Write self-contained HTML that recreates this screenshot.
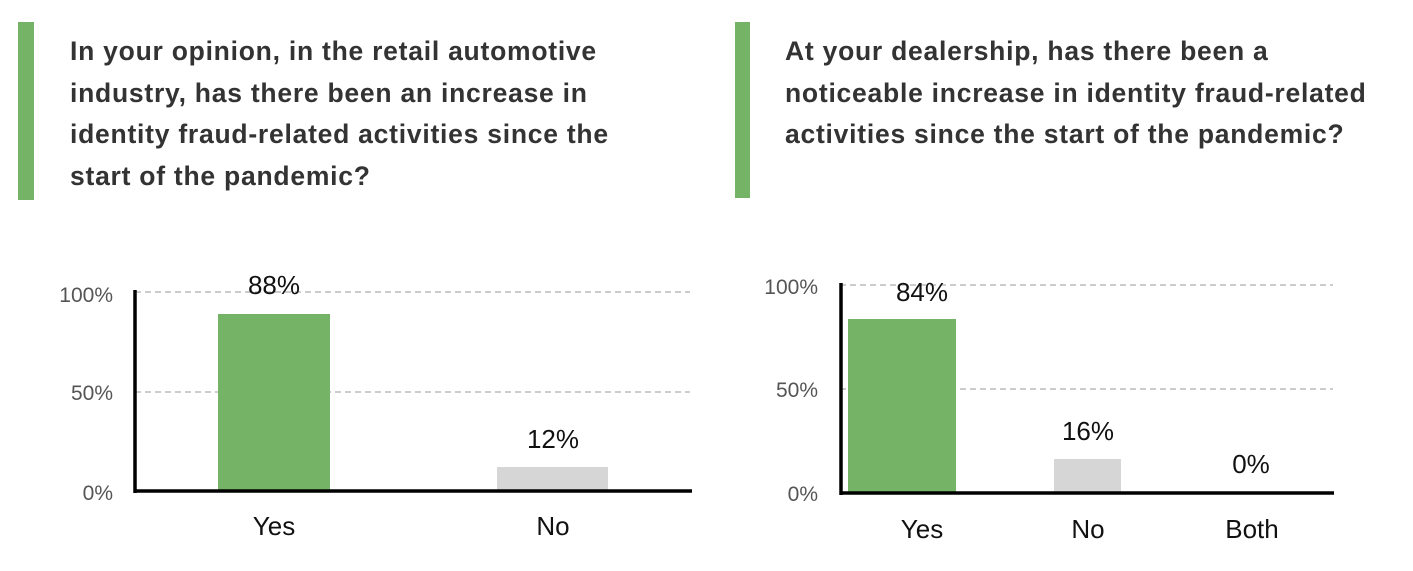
<!DOCTYPE html>
<html><head><meta charset="utf-8"><style>
body{margin:0;width:1413px;height:571px;background:#fff;overflow:hidden;font-family:"Liberation Sans",sans-serif;}
.t{position:absolute;font-size:26.5px;font-weight:bold;color:#333;line-height:41.5px;letter-spacing:0.75px;white-space:nowrap}
.bar{position:absolute;background:#75b467}
</style></head><body>
<div class="bar" style="left:18px;top:22px;width:16px;height:178px"></div>
<div class="t" style="left:70px;top:31px">In your opinion, in the retail automotive<br>industry, has there been an increase in<br>identity fraud-related activities since the<br>start of the pandemic?</div>
<div class="bar" style="left:735px;top:22px;width:15px;height:176px"></div>
<div class="t" style="left:785px;top:31px">At your dealership, has there been a<br>noticeable increase in identity fraud-related<br>activities since the start of the pandemic?</div>
<svg width="1413" height="571" style="position:absolute;left:0;top:0" font-family="Liberation Sans, sans-serif">
<g stroke="#999" stroke-dasharray="6,4" stroke-width="1">
<line x1="135" y1="292" x2="690" y2="292"/><line x1="135" y1="392" x2="690" y2="392"/>
<line x1="840" y1="285" x2="1333" y2="285"/><line x1="840" y1="389" x2="1333" y2="389"/>
</g>
<rect x="218" y="314" width="112" height="177" fill="#75b467"/>
<rect x="497" y="467" width="111" height="24" fill="#d6d6d6"/>
<rect x="848" y="319" width="108" height="173" fill="#75b467"/>
<rect x="1054" y="459" width="67" height="33" fill="#d6d6d6"/>
<g stroke="#000" stroke-width="3.5">
<line x1="135" y1="290" x2="135" y2="493"/><line x1="134" y1="491" x2="692" y2="491"/>
<line x1="841" y1="283" x2="841" y2="495"/><line x1="840" y1="493" x2="1334" y2="493"/>
</g>
<g fill="#555" font-size="21" text-anchor="end">
<text x="113" y="302">100%</text><text x="113" y="400">50%</text><text x="113" y="500">0%</text>
<text x="818" y="294">100%</text><text x="818" y="397">50%</text><text x="818" y="501">0%</text>
</g>
<g fill="#111" font-size="26" text-anchor="middle">
<text x="274" y="294">88%</text><text x="553" y="448">12%</text>
<text x="922" y="301">84%</text><text x="1088" y="440">16%</text><text x="1251" y="473">0%</text>
<text x="274" y="535">Yes</text><text x="553" y="535">No</text>
<text x="922" y="538">Yes</text><text x="1088" y="538">No</text><text x="1252" y="538">Both</text>
</g>
</svg>
</body></html>
